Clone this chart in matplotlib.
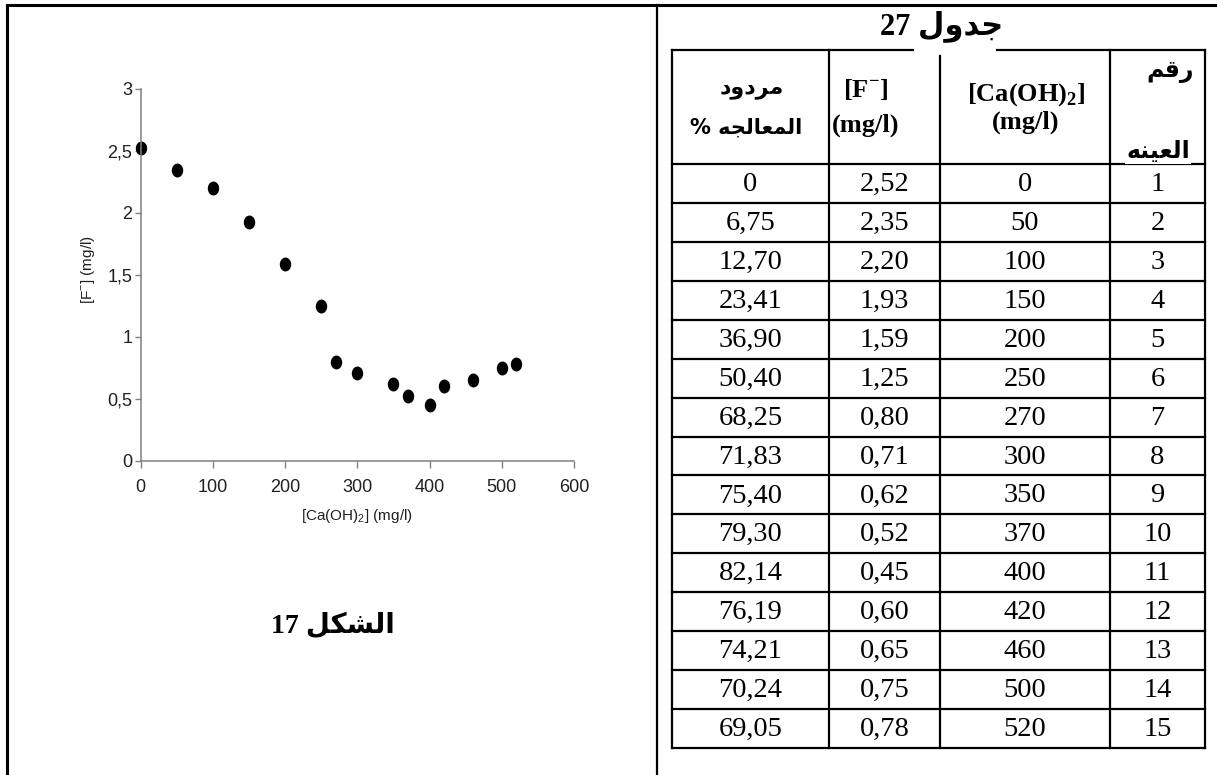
import matplotlib
matplotlib.use("Agg")
import matplotlib.pyplot as plt
import numpy as np
from matplotlib import font_manager
from matplotlib.path import Path
from matplotlib.ticker import FuncFormatter, MultipleLocator

# --- data ---
sample_no = list(range(1, 16))
ca_oh2 = [0, 50, 100, 150, 200, 250, 270, 300, 350, 370, 400, 420, 460, 500, 520]
fluoride = [2.52, 2.35, 2.20, 1.93, 1.59, 1.25, 0.80, 0.71, 0.62, 0.52, 0.45, 0.60, 0.65, 0.75, 0.78]
removal = [0, 6.75, 12.70, 23.41, 36.90, 50.40, 68.25, 71.83, 75.40, 79.30, 82.14, 76.19, 74.21, 70.24, 69.05]

# arabic strings in presentation forms, visual order
fig_word = "\uFEDE\uFEDC\uFEB8\uFEDF\uFE8D"          # الشكل
tab_word = "\uFEDD\uFEED\uFEAA\uFE9F"                # جدول
h_yield1 = "\uFEA9\uFEED\uFEA9\uFEAE\uFEE3"          # مردود
h_yield2 = "\uFEEA\uFEA0\uFEDF\uFE8E\uFECC\uFEE4\uFEDF\uFE8D"  # المعالجه
h_num1 = "\uFEE2\uFED7\uFEAD"                        # رقم
h_num2 = "\uFEEA\uFEE8\uFEF4\uFECC\uFEDF\uFE8D"      # العينه

W, H = 1217, 775
have = {f.name for f in font_manager.fontManager.ttflist}
sans = "Liberation Sans Narrow" if "Liberation Sans Narrow" in have else "Liberation Sans"
serif = "Liberation Serif"

plt.rcParams["mathtext.fontset"] = "custom"
plt.rcParams["mathtext.rm"] = serif
plt.rcParams["mathtext.bf"] = serif + ":bold"
plt.rcParams["mathtext.sf"] = sans


def comma(v, nd=2):
    if v == 0:
        return "0"
    return f"{v:.{nd}f}".replace(".", ",")


fig = plt.figure(figsize=(W / 100, H / 100), dpi=100)
fig.patch.set_facecolor("white")

# page layer in pixel coordinates
page = fig.add_axes([0, 0, 1, 1])
page.set_xlim(0, W)
page.set_ylim(H, 0)
page.axis("off")

k = dict(color="black", solid_capstyle="projecting")
page.plot([7, W], [5, 5], lw=2.2, **k)
page.plot([7, 7], [5, H], lw=2.2, **k)
page.plot([657, 657], [5, H], lw=1.6, **k)

# --- scatter chart ---
x0, x1, y0, y1 = 140.7, 574.0, 460.7, 89.0
ax = fig.add_axes([x0 / W, 1 - y0 / H, (x1 - x0) / W, (y0 - y1) / H])
ax.patch.set_alpha(0)
circ = Path.unit_circle()
oval = Path(circ.vertices * np.array([0.8, 1.0]), circ.codes)
ax.plot(ca_oh2, fluoride, linestyle="none", marker=oval, ms=9, color="black", clip_on=False)
ax.set_xlim(0, 600)
ax.set_ylim(0, 3)
ax.xaxis.set_major_locator(MultipleLocator(100))
ax.yaxis.set_major_locator(MultipleLocator(0.5))
ax.yaxis.set_major_formatter(FuncFormatter(lambda v, p: f"{v:g}".replace(".", ",")))
for s in ["top", "right"]:
    ax.spines[s].set_visible(False)
for s in ["left", "bottom"]:
    ax.spines[s].set_color("#808080")
    ax.spines[s].set_linewidth(1.1)
ax.tick_params(axis="x", length=5, width=1, color="#808080", pad=8, labelsize=13)
ax.tick_params(axis="y", length=4, width=1, color="#808080", pad=2, labelsize=13)
for lab in ax.get_xticklabels() + ax.get_yticklabels():
    lab.set_family(sans)
    lab.set_color("#202020")

page.text(88, 270, "[F$^{\\mathsf{-}}$] (mg/l)", rotation=90, ha="center", va="center",
          fontsize=11, family=sans, color="#202020")
page.text(357, 516, "[Ca(OH)$_{\\mathsf{2}}$] (mg/l)", ha="center", va="center",
          fontsize=11, family=sans, color="#202020")
page.text(333, 626, "17 " + fig_word, ha="center", va="center", fontsize=20,
          fontweight="bold", family=[serif, "DejaVu Sans"])

# --- table ---
cols = [672, 829, 940, 1110, 1205]
top, head_bot, bot = 50, 164, 748
row_h = (bot - head_bot) / len(sample_no)
rows = [head_bot + i * row_h for i in range(len(sample_no) + 1)]

page.text(942, 26, "27 " + tab_word, ha="center", va="center", fontsize=22,
          fontweight="bold", family=[serif, "DejaVu Sans"])

lw = 1.6
page.plot([cols[0], 913], [top, top], lw=lw, **k)
page.plot([997, cols[-1]], [top, top], lw=lw, **k)
for cx in cols:
    page.plot([cx, cx], [56 if cx == 940 else top, bot], lw=lw, **k)
for r in rows:
    page.plot([cols[0], cols[-1]], [r, r], lw=lw, **k)

hb = dict(ha="center", va="center", fontweight="bold")
page.text(752, 89, h_yield1, fontsize=16, family="DejaVu Sans", **hb)
page.text(746, 127, "% " + h_yield2, fontsize=15, family="DejaVu Sans", **hb)
page.text(866, 90, "[F$^{\\mathbf{-}}$]", fontsize=19, family=serif, **hb)
page.text(866, 125, "(mg/l)", fontsize=19, family=serif, **hb)
page.text(1026, 95, "[Ca(OH)$_{\\mathbf{2}}$]", fontsize=19, family=serif, **hb)
page.text(1026, 122, "(mg/l)", fontsize=19, family=serif, **hb)
page.text(1170, 71, h_num1, fontsize=17, family="DejaVu Sans", **hb)
page.text(1158, 151, h_num2, fontsize=17, family="DejaVu Sans",
          bbox=dict(facecolor="white", edgecolor="none", pad=1), **hb)

cells = [[comma(a) for a in removal], [comma(f) for f in fluoride],
         [str(c) for c in ca_oh2], [str(n) for n in sample_no]]
for j, col in enumerate(cells):
    cx = (cols[j] + cols[j + 1]) / 2
    for i, txt in enumerate(col):
        cy = (rows[i] + rows[i + 1]) / 2 + 1
        page.text(cx, cy, txt, ha="center", va="center", fontsize=20.5, family=serif)

fig.savefig("out.png", dpi=100)
